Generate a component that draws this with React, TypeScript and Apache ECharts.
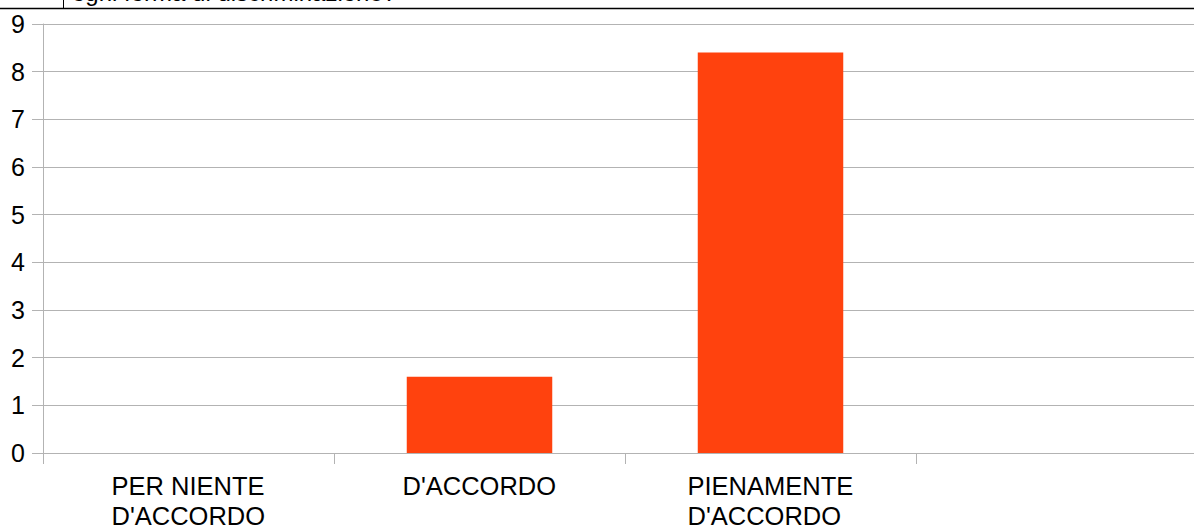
import React, { useEffect, useRef } from "react";
import * as echarts from "echarts";

const categories = ["PER NIENTE\nD'ACCORDO", "D'ACCORDO", "PIENAMENTE\nD'ACCORDO", ""];
const values = [0, 1.6, 8.4, 0];
const titleText = "ogni forma di discriminazione?";

const FONT = "'Liberation Sans', Arial, sans-serif";
const LABEL_SIZE = 25.5;

function measure(text: string): number {
  const c = document.createElement("canvas").getContext("2d");
  if (!c) return text.length * LABEL_SIZE * 0.6;
  c.font = `${LABEL_SIZE}px ${FONT}`;
  return c.measureText(text).width;
}

export default function App() {
  const ref = useRef<HTMLDivElement>(null);
  useEffect(() => {
    if (!ref.current) return;
    const chart = echarts.init(ref.current, null, { renderer: "svg" });
    const rich: Record<string, any> = {};
    categories.forEach((cat, i) => {
      const w = Math.max(1, ...cat.split("\n").map((l) => measure(l)));
      rich["c" + i] = {
        width: Math.ceil(w),
        align: "left",
        fontSize: LABEL_SIZE,
        fontFamily: FONT,
        color: "#000",
        lineHeight: 30,
      };
    });
    chart.setOption({
      animation: false,
      backgroundColor: "#ffffff",
      grid: {
        left: 43,
        top: 24,
        right: 3,
        bottom: 72,
        containLabel: false,
        outerBoundsMode: "none",
      },
      graphic: [
        {
          type: "text",
          left: 72,
          top: -20,
          style: { text: titleText, fontSize: 24, fontFamily: FONT, fill: "#000" },
        },
        {
          type: "line",
          shape: { x1: 0, y1: 8.5, x2: 1194, y2: 8.5 },
          style: { stroke: "#000", lineWidth: 1.5 },
        },
        {
          type: "line",
          shape: { x1: 63.5, y1: 0, x2: 63.5, y2: 8 },
          style: { stroke: "#000", lineWidth: 1 },
        },
      ],
      xAxis: {
        type: "category",
        data: categories,
        axisLine: { show: true, lineStyle: { color: "#b3b3b3", width: 1 } },
        axisTick: { show: true, length: 11, lineStyle: { color: "#b3b3b3" } },
        axisLabel: {
          color: "#000",
          fontSize: LABEL_SIZE,
          fontFamily: FONT,
          margin: 18,
          lineHeight: 30,
          interval: 0,
          formatter: (v: string, idx: number) =>
            v
              .split("\n")
              .map((l) => (l ? `{c${idx}|${l}}` : ""))
              .join("\n"),
          rich,
        },
        splitLine: { show: false },
      },
      yAxis: {
        type: "value",
        min: 0,
        max: 9,
        interval: 1,
        axisLine: { show: true, lineStyle: { color: "#b3b3b3", width: 1 } },
        axisTick: { show: true, length: 11, lineStyle: { color: "#b3b3b3" } },
        axisLabel: { color: "#000", fontSize: 25, fontFamily: FONT, margin: 18 },
        splitLine: { show: true, lineStyle: { color: "#b3b3b3", width: 1 } },
      },
      series: [
        {
          type: "bar",
          data: values,
          barWidth: "50%",
          itemStyle: { color: "#ff420e" },
        },
      ],
    });
    return () => chart.dispose();
  }, []);
  return (
    <div
      style={{
        position: "absolute",
        left: 0,
        top: 0,
        width: 1194,
        height: 525,
        overflow: "hidden",
      }}
    >
      <div ref={ref} style={{ width: 1210, height: 525 }} />
    </div>
  );
}
